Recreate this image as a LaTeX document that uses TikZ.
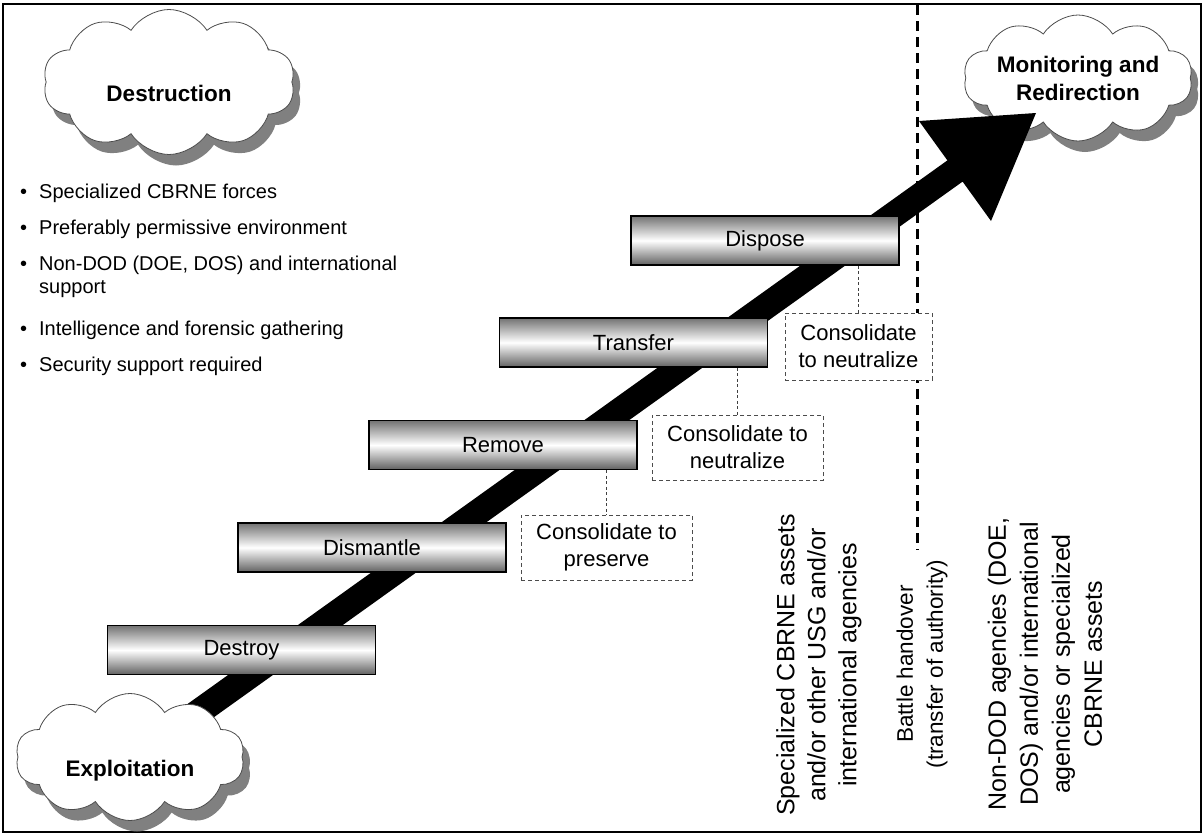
\documentclass[tikz,border=0pt]{standalone}
\usepackage{fontspec}
\setmainfont{Liberation Sans}
\usetikzlibrary{shapes.symbols,shadows}
\begin{document}
\begin{tikzpicture}[x=1pt,y=-1pt,
  cloudnode/.style={cloud, cloud puffs=10, cloud puff arc=115, cloud ignores aspect, draw=black!70, line width=0.8pt, fill=white, inner sep=0pt,
    drop shadow={shadow xshift=7pt, shadow yshift=-11pt, fill=black!50, opacity=1},
    font=\fontsize{22.5}{28}\selectfont\bfseries, align=center},
  stepbox/.style={draw=black, line width=1.8pt, minimum width=268pt, minimum height=49pt,
    top color=black!55, bottom color=black!62, middle color=white, font=\fontsize{22}{26}\selectfont, inner sep=0pt},
  consbox/.style={draw=black!70, dash pattern=on 4pt off 3pt, line width=1pt, fill=white, align=center,
    font=\fontsize{22}{27}\selectfont, inner sep=0pt},
  link/.style={draw=black!75, line width=0.9pt, dash pattern=on 3pt off 2.5pt},
  handover/.style={line width=3pt, dash pattern=on 10pt off 6pt},
  bulletitem/.style={anchor=base west, font=\fontsize{20}{24}\selectfont, inner sep=0pt},
  vtext/.style={rotate=90, align=center, inner sep=0pt}
]
\useasboundingbox (0,0) rectangle (1204,835);
\draw[line width=2.5pt] (3,4) rectangle (1201,832);

% clouds behind the arrow
\node[cloudnode, minimum width=252pt, minimum height=145pt, text height=38pt, text depth=0pt] (destr) at (169,82) {Destruction};
\node[cloudnode, minimum width=223pt, minimum height=126pt] (monit) at (1078,78) {Monitoring and\\Redirection};

% battle handover line
\coordinate (vtop) at (917,5);
\coordinate (vbot) at (917,550);
\draw[handover] (vtop) -- (vbot);

% big arrow
\fill[black] (167.4,718.4) -- (947.4,160.4) -- (919,121) -- (1036,113) -- (991,221) -- (962.6,181.6) -- (182.6,739.6) -- cycle;

% exploitation cloud over arrow start
\node[cloudnode, minimum width=229pt, minimum height=127pt, text height=38pt, text depth=0pt] (explo) at (130,757) {Exploitation};

% steps
\node[stepbox] (destroy) at (241.5,650) {Destroy};
\node[stepbox] (dismantle) at (372,547.5) {Dismantle};
\node[stepbox] (remove) at (503,445) {Remove};
\node[stepbox] (transfer) at (633.5,342.5) {Transfer};
\node[stepbox] (dispose) at (765,240.5) {Dispose};

% consolidation boxes
\node[consbox, minimum width=171pt, minimum height=65pt] (cpres) at (606.5,547.5) {Consolidate to\\preserve};
\node[consbox, minimum width=171pt, minimum height=65pt] (cneuta) at (737.5,447.5) {Consolidate to\\neutralize};
\node[consbox, minimum width=147pt, minimum height=67pt] (cneutb) at (858.5,346.5) {Consolidate\\to neutralize};
\draw[link] (remove.south -| cpres.north) -- (cpres.north);
\draw[link] (transfer.south -| cneuta.north) -- (cneuta.north);
\draw[link] (dispose.south -| cneutb.north) -- (cneutb.north);

% bullets
\node[bulletitem] (b1) at (20,198) {\makebox[19pt][l]{•}Specialized CBRNE forces};
\node[bulletitem] (b2) at (20,234) {\makebox[19pt][l]{•}Preferably permissive environment};
\node[bulletitem] (b3) at (20,270) {\makebox[19pt][l]{•}Non-DOD (DOE, DOS) and international};
\node[bulletitem] (b3b) at (39,293) {support};
\node[bulletitem] (b4) at (20,335) {\makebox[19pt][l]{•}Intelligence and forensic gathering};
\node[bulletitem] (b5) at (20,371) {\makebox[19pt][l]{•}Security support required};

% vertical texts
\node[vtext, font=\fontsize{25}{31}\selectfont] (spec) at (819,665) {Specialized CBRNE assets\\and/or other USG and/or\\international agencies};
\node[vtext, font=\fontsize{22.5}{30}\selectfont] (battle) at (922,664) {Battle handover\\(transfer of authority)};
\node[vtext, font=\fontsize{25}{32}\selectfont] (nondod) at (1045,664) {Non-DOD agencies (DOE,\\DOS) and/or international\\agencies or specialized\\CBRNE assets};
\end{tikzpicture}
\end{document}
